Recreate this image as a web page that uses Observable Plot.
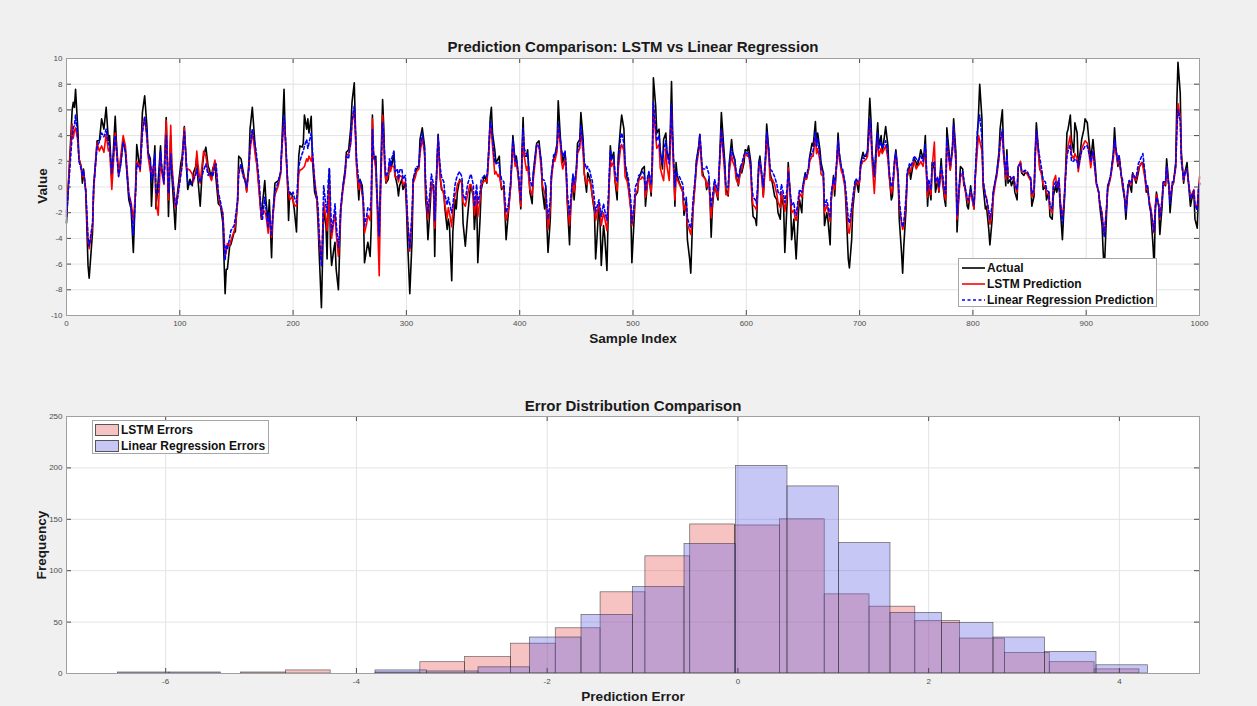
<!DOCTYPE html>
<html>
<head>
<meta charset="utf-8">
<script src="https://cdn.jsdelivr.net/npm/d3@7"></script>
<script src="https://cdn.jsdelivr.net/npm/@observablehq/plot@0.6"></script>
<style>
  html, body { margin: 0; padding: 0; background: #f0f0f0; }
  #wrap { position: relative; width: 1257px; height: 706px; overflow: hidden; background: #f0f0f0;
          font-family: "Liberation Sans", Arial, Helvetica, sans-serif; }
  .lbl { position: absolute; font-weight: bold; color: #1a1a1a; white-space: nowrap; transform: translate(-50%, -50%); }
  .rot { transform: translate(-50%, -50%) rotate(-90deg); }
  .legend { position: absolute; background: #fff; border: 1px solid #a6a6a6; box-sizing: border-box; }
  .legend .txt { position: absolute; font-weight: bold; font-size: 12px; color: #111; white-space: nowrap; transform: translateY(-50%); }
  .legend svg { position: absolute; overflow: visible; }
  .sw { position: absolute; box-sizing: border-box; border: 1px solid #555; }
</style>
</head>
<body>
<div id="wrap"></div>
<script>
// ---------- Top panel: sample index and the three series ----------
const sampleIdx = [0,5,6,7,8,10,11,13,14,15,
17,19,20,23,24,27,29,31,33,35,
37,38,40,43,44,46,48,50,52,55,
57,59,61,62,64,65,67,69,71,72,
74,75,76,78,79,81,83,84,86,88,
89,90,92,93,96,97,101,102,104,106,
107,109,111,112,114,115,116,118,120,121,
123,125,126,128,129,131,132,134,136,138,
140,141,142,144,145,148,149,151,152,154,
156,158,159,161,162,164,165,167,168,170,
172,173,175,176,178,179,181,182,184,187,
189,190,192,193,195,196,197,199,200,201,
203,204,205,206,208,209,210,212,213,214,
216,217,219,220,221,222,223,225,226,227,
229,230,231,232,233,234,236,237,238,240,
241,242,244,246,247,249,251,252,254,255,
256,258,259,261,262,263,265,266,268,269,
270,271,273,274,276,277,279,280,281,282,
284,285,286,287,289,290,292,293,294,296,
297,299,300,301,303,305,306,308,309,311,
312,314,316,317,318,319,321,322,324,325,
326,328,329,330,331,333,334,336,337,338,
340,341,343,344,345,347,349,350,352,354,
356,357,359,360,362,363,365,366,368,369,
371,372,374,375,376,378,379,381,382,383,
384,386,387,388,390,392,394,396,397,399,
401,402,403,404,406,407,409,411,412,414,
415,417,419,420,422,423,424,425,427,428,
430,431,433,434,436,437,438,440,441,442,
444,445,447,448,450,451,453,454,456,457,
459,460,462,463,464,466,467,468,470,471,
472,474,475,477,478,480,481,483,484,486,
487,489,490,492,493,495,496,498,499,501,
502,504,505,507,508,510,511,513,514,516,
517,518,520,521,523,524,526,527,529,530,
532,533,534,535,537,538,539,541,542,544,
545,547,548,550,551,552,553,555,556,558,
559,561,562,564,565,567,568,569,570,572,
573,575,576,578,579,581,582,584,585,587,
588,590,591,593,595,596,598,599,601,602,
604,605,606,608,609,611,612,614,615,617,
618,620,621,623,624,625,627,628,630,631,
633,634,636,637,639,640,642,643,644,646,
647,649,650,652,653,655,656,658,659,661,
662,663,665,666,668,669,671,672,674,675,
677,678,680,681,682,684,685,687,688,690,
691,693,694,696,697,699,700,701,703,704,
706,707,709,710,711,713,715,716,717,719,
720,722,723,725,726,728,729,731,732,734,
735,737,738,739,741,742,744,745,747,748,
750,751,753,754,756,757,758,760,761,763,
764,766,767,769,770,772,773,775,776,777,
779,780,782,783,785,786,788,789,791,792,
793,795,796,798,799,801,802,804,805,806,
808,809,811,812,814,815,817,818,820,821,
823,824,826,827,829,830,831,833,834,836,
837,839,840,842,843,845,846,848,849,851,
852,854,855,856,858,859,861,862,864,865,
867,868,870,871,873,874,876,877,879,880,
881,883,884,886,887,889,890,892,893,895,
896,898,899,901,902,904,905,906,908,909,
911,912,914,915,916,918,919,921,922,924,
925,926,928,929,931,932,934,935,937,938,
940,941,943,944,946,947,949,950,952,953,
954,956,957,959,960,961,962,964,965,967,
968,970,971,973,974,976,977,979,980,981,
983,984,986,987,989,990,992,993,995,996,
998,999,1000];

const actual = [-2.8,6.0,6.6,6.2,7.6,4.5,2.2,1.6,0.3,1.4,
-0.4,-6.1,-7.1,-3.5,0.1,3.6,3.6,5.3,4.5,6.2,
3.6,4.0,0.6,5.5,3.6,0.9,1.9,3.7,2.7,-1.0,
-1.7,-5.1,0.1,3.3,1.9,1.5,5.8,7.1,4.7,2.7,
2.2,-1.5,0.3,3.2,-1.7,0.6,3.2,1.4,0.6,5.4,
2.2,-2.3,4.0,0.9,-3.3,-1.2,1.9,2.3,4.7,1.4,
-0.2,0.6,0.1,1.1,1.6,2.4,0.6,-1.5,1.6,2.4,
3.1,1.6,1.4,0.6,1.4,1.9,0.6,-1.3,-1.5,-2.8,
-8.3,-6.4,-6.4,-4.6,-4.5,-3.5,-3.5,-1.0,2.4,2.2,
1.2,0.3,-0.3,1.9,4.5,6.2,5.0,2.5,1.9,-0.1,
-2.5,-1.3,0.5,-1.0,-2.8,-1.0,-5.5,-2.5,0.3,0.5,
1.1,3.2,7.6,4.2,0.6,-2.6,-0.4,-0.6,-1.1,-1.7,
-3.5,-0.4,2.4,3.2,3.1,3.4,5.6,4.5,5.3,4.2,
5.5,2.2,-0.4,-0.7,-1.0,-2.8,-5.1,-9.4,-5.6,-1.7,
-3.0,-5.6,-1.0,1.4,-4.6,-6.1,-4.8,-4.3,-6.4,-8.0,
-5.1,-2.0,0.1,1.4,2.7,2.9,4.7,6.6,8.1,4.7,
1.9,-1.0,0.6,0.1,-1.5,-5.9,-4.8,-4.3,-5.4,-3.0,
5.6,2.2,2.4,-0.4,-4.0,0.1,6.8,4.7,1.4,0.3,
0.6,1.6,2.0,1.6,2.7,0.9,0.1,-0.7,0.1,0.6,
-0.2,0.3,-1.5,-4.1,-8.3,-4.1,0.6,1.1,1.4,1.6,
3.7,4.6,3.2,-1.0,-2.0,-4.1,-1.5,0.3,0.1,-5.4,
-0.4,4.1,2.2,0.6,-0.2,-0.4,-1.7,-3.3,-2.5,-3.0,
-7.3,-3.5,-1.0,-1.7,-0.4,0.6,0.3,-2.8,-4.6,-2.3,
-0.4,0.1,-0.7,-3.3,-0.7,-5.9,-2.5,-0.2,0.6,0.9,
0.3,1.6,5.4,6.2,4.2,2.9,1.9,2.2,2.4,0.6,
-0.2,0.1,-2.0,-4.1,-2.0,0.1,4.0,1.9,2.4,0.6,
-1.7,2.7,5.4,2.4,2.4,2.9,-0.4,-1.3,1.1,2.7,
3.4,3.6,1.9,-0.2,-1.7,0.1,-3.0,-5.1,-2.5,0.9,
2.2,2.4,3.4,6.7,3.7,2.7,1.9,2.7,1.4,-1.2,
-4.5,-1.7,0.9,-1.0,1.4,3.4,3.7,5.8,3.7,1.1,
-0.4,1.1,0.6,0.1,-0.7,-2.0,-5.6,-4.3,-1.2,-3.0,
-6.1,-3.0,-3.8,-6.5,-2.5,3.2,2.1,2.7,0.6,-1.0,
2.4,4.7,5.6,4.5,1.6,0.6,0.1,-1.7,-5.9,-2.5,
-0.7,-0.4,0.6,1.1,1.4,1.6,-1.5,0.6,1.1,-0.7,
1.6,8.5,6.3,4.2,4.5,2.9,1.4,3.7,4.2,2.7,
2.1,4.7,8.2,4.2,-1.5,1.9,0.9,0.3,0.1,-0.4,
-2.2,-1.0,-4.1,-5.6,-6.7,-4.1,-1.7,0.6,2.1,3.2,
4.1,1.4,0.9,0.6,-0.2,0.6,-1.0,-3.9,-1.7,0.3,
-0.2,-1.0,1.1,5.8,4.5,1.9,-0.2,-0.7,1.9,3.7,
2.7,2.1,0.9,0.1,1.6,1.1,1.9,2.9,2.8,3.2,
1.9,-1.0,-2.3,-2.5,-3.0,1.9,2.4,0.6,-0.7,2.4,
4.9,2.7,1.1,0.3,-0.2,-0.7,-1.0,-2.0,-2.5,-0.4,
-1.7,-5.1,-1.2,1.9,-1.0,-4.1,-2.5,-4.1,-5.6,-2.0,
-1.0,-2.0,0.1,1.1,0.6,1.4,2.4,3.4,3.2,5.1,
3.2,4.2,2.9,1.9,1.1,-3.0,-2.0,-2.5,-4.5,-1.0,
0.9,-0.7,2.2,4.2,2.7,1.4,1.1,0.3,-1.5,-5.6,
-6.3,-4.1,-1.7,0.1,0.6,-0.4,0.6,1.9,2.7,2.4,
2.4,2.9,6.9,5.3,2.7,0.9,3.7,5.0,3.2,4.0,
2.7,4.0,4.7,3.2,1.1,-1.0,-0.7,2.2,2.9,0.9,
-2.5,-5.1,-6.7,-4.6,-1.7,0.9,1.6,0.6,1.6,2.2,
1.9,1.6,2.4,2.9,2.2,2.7,4.0,-1.5,0.1,-1.0,
1.9,1.4,-0.4,0.6,-0.4,2.2,0.6,-1.0,-1.5,4.6,
2.7,1.4,3.2,5.3,2.7,-3.5,0.1,1.6,1.4,0.1,
0.1,-1.5,-1.7,0.1,-0.7,-1.7,0.6,4.0,5.8,8.0,
5.3,0.1,-1.7,-1.5,-3.3,-4.5,-2.5,-0.4,0.6,1.1,
2.7,4.5,6.0,3.2,0.1,2.9,0.3,0.6,0.1,0.6,
-0.4,-1.0,1.6,1.9,1.1,0.9,1.1,1.1,0.9,0.6,
-1.5,-0.7,2.7,5.0,2.7,1.4,1.1,-0.2,0.1,-1.0,
-0.4,-2.3,-2.5,-0.7,0.1,-0.4,0.3,-1.5,-4.1,-2.3,
-0.7,4.2,4.5,5.6,3.7,2.7,5.0,4.2,1.6,2.9,
3.7,4.5,5.3,5.0,4.0,2.2,2.9,3.7,1.6,0.3,
-0.4,-1.5,-3.0,-5.1,-6.5,-2.0,0.1,0.6,1.1,2.7,
4.6,3.2,1.6,2.4,0.9,0.1,-1.0,-2.5,0.1,0.3,
-0.4,1.1,0.6,0.3,1.1,1.6,1.9,1.9,0.9,-0.4,
0.1,-1.5,-2.0,-4.6,-6.3,-2.0,-0.4,-1.5,-3.7,-1.5,
0.3,0.1,2.2,0.1,-2.0,0.1,0.3,1.9,6.6,9.7,
7.3,2.7,0.3,1.1,1.9,0.6,-1.5,-1.0,-0.4,-2.5,
-3.2,-0.7,0.3];

const lstmPred = [-2.0,4.9,3.8,4.4,4.6,3.6,2.2,1.5,0.8,1.2,
-0.3,-4.2,-4.8,-3.0,-0.2,3.4,2.8,3.2,2.7,4.1,
2.8,3.0,-0.2,4.2,3.0,1.0,2.5,4.0,3.2,-0.5,
-1.2,-2.6,-0.3,2.0,1.7,1.2,4.5,5.4,3.8,2.4,
1.2,1.6,1.0,2.0,-1.2,-2.2,2.5,1.2,0.2,5.2,
2.0,-1.0,4.8,1.8,-1.6,-1.4,1.2,1.8,4.6,1.3,
1.4,1.3,1.0,0.4,1.2,2.8,1.8,0.3,2.0,2.8,
2.4,1.2,1.0,0.5,1.2,2.1,1.6,-0.6,-1.5,-2.0,
-5.4,-5.0,-4.4,-4.6,-4.2,-3.4,-3.0,-1.2,1.3,1.6,
0.9,0.6,-0.4,1.5,2.8,4.3,3.6,2.2,1.7,-0.4,
-2.4,-1.8,-1.9,-2.2,-3.6,-2.2,-3.9,-2.5,-0.6,0.1,
1.0,2.8,5.2,4.0,0.3,-0.5,-1.0,-0.8,-1.0,-1.4,
-1.5,-0.4,1.0,1.3,1.4,1.5,1.6,2.2,2.0,2.4,
2.0,2.5,0.6,-0.2,-1.0,-2.0,-4.0,-5.8,-3.6,-1.2,
-2.4,-3.4,-1.6,0.2,-3.0,-4.0,-2.6,-2.0,-3.6,-5.4,
-4.0,-1.8,-0.2,1.0,2.4,2.6,3.4,5.0,6.0,4.0,
1.6,-0.2,0.4,-0.6,-1.2,-3.6,-2.8,-2.2,-2.6,-1.2,
5.3,2.6,1.4,-1.0,-6.9,-1.5,5.6,3.8,1.4,0.4,
1.0,1.8,1.2,1.6,1.6,0.8,0.8,0.4,0.9,0.8,
0.2,0.4,-0.8,-2.6,-5.0,-2.2,0.3,0.8,1.2,1.4,
2.6,3.8,2.6,-0.2,-1.4,-2.5,-0.6,0.4,-0.4,-3.2,
-0.8,3.9,2.0,0.6,0.0,-0.6,-1.4,-2.4,-1.6,-2.0,
-3.1,-1.8,-0.6,-0.4,0.2,0.5,0.4,-1.2,-1.5,-0.6,
0.2,0.2,-0.6,-2.2,-0.6,-2.3,-1.0,0.2,0.4,0.5,
0.4,1.4,4.8,4.4,3.2,1.0,1.2,0.8,1.0,0.4,
0.0,-0.2,-1.6,-2.6,-1.8,0.0,3.4,1.6,2.0,0.6,
-1.5,1.8,4.2,2.4,1.3,1.6,-0.2,-0.6,0.6,2.2,
3.2,3.2,1.4,0.2,-0.5,-0.6,-2.0,-3.3,-1.6,0.6,
2.2,2.0,2.8,4.6,3.2,1.9,1.4,2.2,1.2,-1.0,
-3.0,-1.6,0.6,-0.4,1.0,2.6,3.0,4.4,2.6,1.0,
0.2,0.6,0.4,0.0,-0.6,-1.6,-2.6,-2.2,-1.3,-2.0,
-3.0,-2.0,-2.4,-3.4,-1.8,2.2,1.6,2.0,0.6,-0.3,
1.4,3.0,3.3,2.8,0.8,0.4,-0.2,-1.6,-3.0,-1.8,
-0.6,-0.2,0.6,0.6,0.8,0.6,-0.8,0.4,0.8,-0.4,
1.4,6.3,4.0,3.0,3.3,1.5,0.8,0.5,3.0,1.6,
0.5,3.4,6.0,3.0,-1.0,0.8,0.6,0.2,0.0,-0.4,
-1.8,-1.4,-2.9,-3.4,-3.7,-2.8,-1.7,0.4,1.6,2.8,
3.9,0.9,0.8,0.6,0.0,0.4,-1.0,-2.4,-1.2,0.2,
-0.2,-0.8,1.0,4.4,3.2,1.0,-0.6,-0.6,1.2,2.5,
2.0,1.5,0.6,0.2,1.2,1.4,2.4,2.6,2.4,2.6,
1.2,-0.7,-1.4,-1.6,-1.8,1.4,2.0,0.4,-0.8,2.0,
4.0,2.2,0.5,0.6,0.4,0.2,-0.6,-1.2,-1.6,-0.4,
-1.2,-1.9,-0.6,1.5,-0.8,-2.0,-1.8,-2.4,-2.6,-1.2,
-0.5,-0.8,-0.2,0.8,0.6,1.4,2.0,2.4,2.4,4.0,
2.6,3.0,2.0,1.0,0.8,-2.0,-1.4,-1.8,-2.7,-0.8,
0.5,-0.2,2.0,3.5,2.2,1.2,1.0,0.0,-0.8,-3.5,
-3.6,-2.0,-1.0,0.3,0.4,0.2,0.4,1.6,2.0,2.0,
2.2,2.4,5.0,4.0,2.0,-0.5,2.8,3.8,2.4,3.0,
2.6,3.0,3.2,2.2,1.0,-0.5,-0.2,1.8,2.5,0.6,
-1.4,-2.8,-3.3,-3.0,-1.2,0.8,1.4,1.2,1.8,2.0,
1.4,1.6,1.8,2.0,1.6,2.2,3.0,-0.8,0.2,-0.6,
1.5,3.5,0.6,0.4,-0.3,1.4,0.8,-0.6,-1.0,3.5,
2.0,1.3,2.8,4.6,1.8,-2.5,-0.2,0.8,1.0,0.4,
-0.2,-1.0,-1.2,-0.4,-0.8,-1.7,0.6,3.0,4.0,3.6,
2.8,0.4,-0.6,-0.8,-2.2,-2.9,-1.8,-0.8,0.4,0.8,
2.2,3.4,4.3,2.6,0.6,2.3,0.8,0.8,0.6,0.8,
0.2,-0.4,1.5,2.0,1.2,1.2,1.2,1.0,0.8,0.5,
-0.8,-0.4,2.2,4.3,2.4,1.5,0.8,0.2,0.0,-0.5,
-0.6,-1.7,-2.0,0.4,0.9,0.0,0.5,-1.0,-2.3,-1.6,
-0.2,2.7,3.2,4.0,2.5,2.2,2.6,2.2,1.2,2.4,
3.0,3.4,3.6,3.4,3.0,1.5,2.2,2.8,1.0,0.2,
-0.4,-1.3,-2.0,-3.0,-3.7,-1.5,-0.2,0.5,1.0,2.2,
3.4,2.8,1.8,2.4,0.8,0.4,-0.8,-1.8,0.0,0.5,
0.2,1.0,0.6,0.5,1.4,1.6,1.9,1.6,0.6,-0.2,
0.0,-1.3,-1.6,-3.0,-3.6,-1.4,-0.6,-1.4,-2.5,-1.0,
0.3,0.2,1.6,0.0,-1.0,0.3,0.3,1.5,4.5,6.5,
5.5,2.2,0.5,1.0,1.4,0.6,-0.8,-0.6,-0.2,-1.3,
-1.6,-0.4,0.8];

const linregPred = [-2.3,4.0,4.6,4.8,5.6,3.8,2.0,1.4,0.9,1.3,
-0.2,-4.0,-4.6,-2.8,0.0,3.2,3.5,4.2,3.9,4.5,
3.4,3.2,1.0,4.0,3.0,0.8,1.8,3.5,2.8,-0.6,
-1.4,-3.8,-0.5,1.8,1.5,1.4,4.2,5.5,4.0,2.6,
1.9,0.5,1.0,2.6,-0.5,-0.4,2.8,1.6,0.3,4.0,
2.2,-0.5,2.6,1.2,-1.3,-1.5,1.0,1.6,4.3,1.6,
0.4,0.2,0.4,0.6,0.9,1.4,0.9,0.4,1.0,1.3,
1.8,0.9,1.1,1.1,0.8,1.7,1.8,-0.4,-1.2,-2.2,
-5.7,-4.6,-4.8,-4.0,-3.4,-3.0,-2.4,-1.1,1.0,1.8,
0.8,0.4,0.0,1.4,3.2,4.5,4.0,3.0,2.3,0.5,
-2.2,-2.5,-0.8,-1.6,-3.2,-2.0,-3.8,-2.2,-0.3,0.4,
1.2,3.0,5.6,4.3,0.8,-0.2,-0.5,-0.6,-0.4,-0.8,
-1.2,0.4,1.6,2.0,2.6,2.8,3.2,3.7,3.0,3.4,
4.2,3.0,0.4,-0.4,-0.6,-1.5,-3.6,-6.2,-4.0,0.1,
-1.5,-2.0,0.4,1.5,-1.2,-3.5,-2.2,-1.3,-2.8,-4.7,
-3.6,-1.5,0.0,1.2,2.4,2.2,3.8,5.2,6.3,4.4,
2.2,0.4,0.6,-0.3,-1.0,-3.0,-2.2,-1.6,-1.8,-0.8,
4.5,2.6,2.0,-0.6,-3.8,-0.5,5.0,4.0,2.0,0.8,
1.2,2.2,1.6,2.2,2.8,1.2,1.4,0.6,1.3,1.4,
0.6,0.9,-0.4,-2.4,-4.8,-2.0,0.6,1.4,1.6,1.6,
3.0,4.2,3.0,0.4,-0.8,-2.0,-0.2,1.0,0.2,-2.6,
-0.4,4.0,2.4,1.4,0.8,0.4,-0.6,-1.4,-0.8,-1.2,
-2.0,-1.4,0.2,0.6,0.9,1.2,0.8,-0.6,-1.0,0.2,
0.8,1.0,0.2,-1.5,0.2,-1.3,-0.4,0.6,0.8,0.9,
0.8,1.8,5.1,4.8,3.8,1.9,1.8,1.9,1.6,1.0,
0.6,0.4,-1.0,-2.0,-1.4,0.4,3.7,2.0,2.2,1.0,
-1.0,2.2,4.6,3.0,2.5,2.6,0.6,0.0,1.0,2.6,
3.3,3.2,2.0,0.6,0.5,0.0,-1.4,-2.5,-1.0,1.0,
2.5,2.4,3.2,5.0,3.6,2.8,2.4,2.8,1.6,-0.4,
-2.2,-1.0,1.0,0.2,1.4,2.8,3.4,4.8,3.2,2.0,
1.4,1.6,1.2,0.8,0.5,-1.0,-2.0,-1.6,-1.0,-1.6,
-2.3,-1.3,-1.8,-2.6,-1.2,2.9,2.2,2.4,1.2,0.4,
2.0,3.8,4.2,3.4,1.9,1.0,0.6,-1.0,-2.8,-1.4,
0.0,0.4,0.9,1.0,1.2,1.0,-0.3,0.8,1.2,0.2,
2.0,6.6,4.6,3.6,4.0,2.6,1.8,2.8,3.6,2.6,
1.8,4.0,6.4,3.6,0.0,1.2,1.0,0.8,0.6,0.2,
-1.0,-0.8,-2.4,-3.0,-3.2,-2.4,-1.0,0.8,2.0,3.0,
4.1,1.5,1.4,1.4,1.6,1.0,-0.6,-1.6,-0.8,0.6,
0.2,-0.3,1.4,4.5,3.6,1.6,0.0,0.0,1.8,3.0,
2.6,2.0,1.2,0.7,1.6,1.8,2.5,2.7,2.6,2.7,
1.6,0.0,-0.8,-1.0,-1.3,1.6,2.1,0.8,0.0,2.4,
4.3,2.8,1.4,1.2,1.0,0.8,0.2,-0.4,-0.6,0.2,
-0.6,-1.2,-0.2,1.2,-0.6,-1.4,-1.2,-2.0,-2.2,-0.8,
-0.2,-0.4,0.1,1.0,0.8,1.6,2.4,2.6,2.8,4.3,
3.2,3.8,2.4,1.4,1.2,-1.5,-1.0,-1.4,-2.4,-0.4,
0.7,0.2,2.2,3.7,2.6,1.5,1.4,0.4,-0.4,-2.5,
-2.8,-1.6,-0.8,0.5,0.6,0.4,0.6,1.8,2.3,2.2,
2.6,2.6,5.3,4.5,2.6,0.8,3.2,4.2,3.0,3.5,
3.0,3.4,3.6,2.6,1.3,0.0,0.2,2.2,2.7,1.0,
-1.0,-2.6,-3.1,-2.8,-0.8,1.2,1.8,1.6,2.0,2.4,
2.2,2.0,2.2,2.4,2.0,2.5,3.3,-0.3,0.6,-0.2,
1.7,2.0,0.4,0.8,0.0,1.6,1.2,-0.3,-0.5,3.8,
2.2,1.7,3.0,4.8,2.0,-2.2,0.2,1.0,1.2,0.6,
0.0,-0.8,-1.0,-0.2,-0.6,-1.4,0.8,4.5,5.0,5.6,
3.8,0.6,-0.7,-0.9,-1.8,-2.5,-1.4,-0.3,0.6,1.0,
2.4,3.6,4.5,2.8,1.0,2.5,0.9,0.8,0.6,0.8,
0.2,-0.2,1.6,1.8,1.3,1.2,1.3,1.2,1.0,0.7,
-0.5,-0.2,2.4,4.4,2.8,2.3,1.2,0.5,0.4,-0.2,
-0.4,-1.4,-1.7,0.0,0.4,0.0,0.7,-1.2,-2.8,-1.8,
-0.4,2.4,2.8,3.3,2.0,2.0,2.2,2.0,1.5,2.4,
2.8,3.0,3.2,3.2,2.8,2.0,2.4,2.8,1.2,0.4,
-0.4,-1.2,-2.2,-3.2,-3.9,-1.6,0.0,0.7,1.2,2.6,
3.7,3.0,2.0,2.5,0.8,0.6,-1.0,-2.0,0.2,0.5,
0.3,1.0,0.8,0.7,1.8,2.0,2.4,2.6,1.0,0.0,
0.2,-1.5,-1.8,-2.9,-3.5,-1.6,-0.8,-1.4,-2.4,-1.0,
0.4,0.4,1.6,0.0,-1.3,0.4,0.4,1.6,4.3,6.0,
5.2,2.0,0.6,1.0,1.4,0.6,-0.9,-0.7,-0.3,-1.4,
-1.8,-0.2,0.3];

const topXTicks = [0, 100, 200, 300, 400, 500, 600, 700, 800, 900, 1000];
const topYTicks = [-10, -8, -6, -4, -2, 0, 2, 4, 6, 8, 10];

// ---------- Bottom panel: histogram bins (edges and counts) ----------
const lstmEdges = [-5.21, -4.74, -4.27, -3.80, -3.33, -2.86, -2.38, -1.91, -1.44, -0.97, -0.50,
                   -0.03, 0.44, 0.91, 1.38, 1.86, 2.33, 2.80, 3.27, 3.74, 4.21];
const lstmCounts = [1, 3, 0, 1, 11, 16, 29, 44, 79, 114, 145, 144, 150, 77, 65, 51, 34, 20, 11, 4];
const linregEdges = [-6.50, -5.96, -5.42, -4.88, -4.34, -3.80, -3.26, -2.72, -2.18, -1.64, -1.10,
                     -0.56, -0.02, 0.52, 1.06, 1.60, 2.14, 2.68, 3.22, 3.76, 4.30];
const linregCounts = [1, 1, 0, 0, 0, 3, 2, 6, 35, 57, 84, 126, 202, 182, 127, 59, 49, 35, 21, 8];
const errXTicks = [-6, -4, -2, 0, 2, 4];
const freqTicks = [0, 50, 100, 150, 200, 250];

// ---------- build ----------
const wrap = document.getElementById("wrap");
const FONT = "'Liberation Sans', Arial, Helvetica, sans-serif";
const W = 1257, ML = 66, MR = 58;
const PW = W - ML - MR;      // plot area width
const PH = 257;              // plot area height

const rows = sampleIdx.map((x, k) => ({x, actual: actual[k], lstm: lstmPred[k], lr: linregPred[k]}));
const fmt = d => String(d);
const gridStyle = {stroke: "#e3e3e3", strokeOpacity: 1, strokeWidth: 1};

function inwardTicks(xt, yt) {
  return [
    Plot.tickY(yt, {y: d => d, stroke: "#4d4d4d", insetRight: PW - 5}),
    Plot.tickY(yt, {y: d => d, stroke: "#4d4d4d", insetLeft: PW - 5}),
    Plot.tickX(xt, {x: d => d, stroke: "#4d4d4d", insetTop: PH - 5}),
    Plot.tickX(xt, {x: d => d, stroke: "#4d4d4d", insetBottom: PH - 5})
  ];
}

const topPlot = Plot.plot({
  width: W, height: 365,
  marginTop: 58, marginBottom: 50, marginLeft: ML, marginRight: MR,
  x: {domain: [0, 1000]},
  y: {domain: [-10, 10]},
  style: {background: "transparent", fontFamily: FONT, fontSize: "8px", color: "#4d4d4d"},
  marks: [
    Plot.frame({fill: "white", stroke: null}),
    Plot.gridX(topXTicks, gridStyle),
    Plot.gridY(topYTicks, gridStyle),
    Plot.line(rows, {x: "x", y: "actual", stroke: "#000000", strokeWidth: 1.6}),
    Plot.line(rows, {x: "x", y: "lstm", stroke: "#ff0000", strokeWidth: 1.6}),
    Plot.line(rows, {x: "x", y: "lr", stroke: "#0000ff", strokeWidth: 1.6, strokeDasharray: "3,2.5"}),
    ...inwardTicks(topXTicks, topYTicks),
    Plot.axisX(topXTicks, {tickSize: 0, tickPadding: 5, tickFormat: fmt, label: null}),
    Plot.axisY(topYTicks, {tickSize: 0, tickPadding: 4, tickFormat: fmt, label: null}),
    Plot.frame({stroke: "#a0a0a0"})
  ]
});
topPlot.style.position = "absolute";
topPlot.style.left = "0px";
topPlot.style.top = "0px";
wrap.appendChild(topPlot);

function bins(edges, counts) {
  return counts.map((c, k) => ({x1: edges[k], x2: edges[k + 1], count: c})).filter(d => d.count > 0);
}

const botPlot = Plot.plot({
  width: W, height: 341,
  marginTop: 51, marginBottom: 33, marginLeft: ML, marginRight: MR,
  x: {domain: [-7.04, 4.84]},
  y: {domain: [0, 250]},
  style: {background: "transparent", fontFamily: FONT, fontSize: "8px", color: "#4d4d4d"},
  marks: [
    Plot.frame({fill: "white", stroke: null}),
    Plot.gridX(errXTicks, gridStyle),
    Plot.gridY(freqTicks, gridStyle),
    Plot.rect(bins(lstmEdges, lstmCounts), {x1: "x1", x2: "x2", y1: 0, y2: "count",
      fill: "rgb(228,80,80)", fillOpacity: 0.35, stroke: "#2a2a2a", strokeOpacity: 0.7, strokeWidth: 0.7}),
    Plot.rect(bins(linregEdges, linregCounts), {x1: "x1", x2: "x2", y1: 0, y2: "count",
      fill: "rgb(95,95,230)", fillOpacity: 0.35, stroke: "#2a2a2a", strokeOpacity: 0.7, strokeWidth: 0.7}),
    ...inwardTicks(errXTicks, freqTicks),
    Plot.axisX(errXTicks, {tickSize: 0, tickPadding: 5, tickFormat: fmt, label: null}),
    Plot.axisY(freqTicks, {tickSize: 0, tickPadding: 4, tickFormat: fmt, label: null}),
    Plot.frame({stroke: "#a0a0a0"})
  ]
});
botPlot.style.position = "absolute";
botPlot.style.left = "0px";
botPlot.style.top = "365px";
wrap.appendChild(botPlot);

// ---------- titles and axis labels ----------
function label(text, x, y, size, rotate) {
  const d = document.createElement("div");
  d.className = "lbl" + (rotate ? " rot" : "");
  d.textContent = text;
  d.style.left = x + "px";
  d.style.top = y + "px";
  d.style.fontSize = size + "px";
  wrap.appendChild(d);
}
label("Prediction Comparison: LSTM vs Linear Regression", 633, 46, 15);
label("Sample Index", 633, 338, 13.6);
label("Value", 42, 186, 13.6, true);
label("Error Distribution Comparison", 633, 405, 15);
label("Prediction Error", 633, 696, 13.6);
label("Frequency", 41, 545, 13.6, true);

// ---------- legends ----------
const lineLegend = [
  {name: "Actual", color: "#000000", dash: null},
  {name: "LSTM Prediction", color: "#ff0000", dash: null},
  {name: "Linear Regression Prediction", color: "#0000ff", dash: "3,2.5"}
];
const lg1 = document.createElement("div");
lg1.className = "legend";
Object.assign(lg1.style, {left: "958px", top: "258px", width: "199px", height: "49px"});
lineLegend.forEach((e, k) => {
  const cy = 9 + k * 16;
  const s = document.createElementNS("http://www.w3.org/2000/svg", "svg");
  s.setAttribute("width", "24"); s.setAttribute("height", "4");
  s.style.left = "3px"; s.style.top = (cy - 2) + "px";
  const l = document.createElementNS("http://www.w3.org/2000/svg", "line");
  l.setAttribute("x1", "0"); l.setAttribute("x2", "23"); l.setAttribute("y1", "2"); l.setAttribute("y2", "2");
  l.setAttribute("stroke", e.color); l.setAttribute("stroke-width", "1.6");
  if (e.dash) l.setAttribute("stroke-dasharray", e.dash);
  s.appendChild(l);
  lg1.appendChild(s);
  const t = document.createElement("div");
  t.className = "txt"; t.textContent = e.name;
  t.style.left = "28px"; t.style.top = cy + "px";
  lg1.appendChild(t);
});
wrap.appendChild(lg1);

const histLegend = [
  {name: "LSTM Errors", fill: "rgba(228,80,80,0.35)"},
  {name: "Linear Regression Errors", fill: "rgba(95,95,230,0.35)"}
];
const lg2 = document.createElement("div");
lg2.className = "legend";
Object.assign(lg2.style, {left: "92px", top: "420px", width: "177px", height: "34px"});
histLegend.forEach((e, k) => {
  const cy = 9 + k * 16;
  const sw = document.createElement("div");
  sw.className = "sw";
  Object.assign(sw.style, {left: "2px", top: (cy - 6) + "px", width: "24px", height: "12px", background: e.fill});
  lg2.appendChild(sw);
  const t = document.createElement("div");
  t.className = "txt"; t.textContent = e.name;
  t.style.left = "28px"; t.style.top = cy + "px";
  lg2.appendChild(t);
});
wrap.appendChild(lg2);
</script>
</body>
</html>
